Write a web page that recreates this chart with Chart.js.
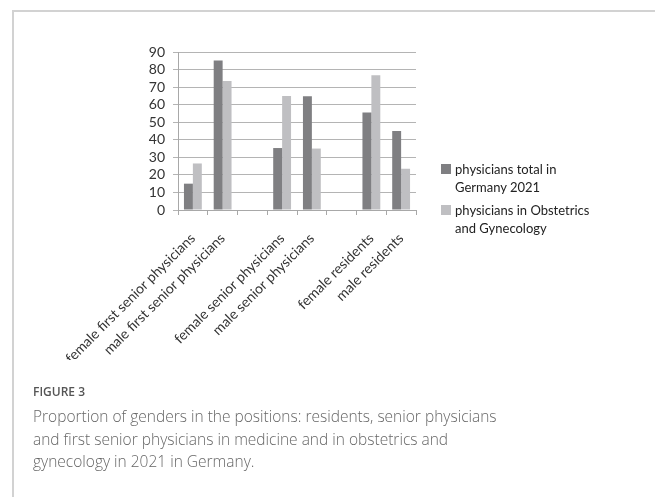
<!DOCTYPE html>
<html>
<head>
<meta charset="utf-8">
<script src="https://cdn.jsdelivr.net/npm/chart.js@4/dist/chart.umd.min.js"></script>
<style>
  html, body { margin:0; padding:0; background:#fff; }
  body { width:655px; height:497px; position:relative; overflow:hidden; }
  #frameTop { position:absolute; left:13px; top:10px; width:642px; height:0; border-top:2px solid #d2d2d2; }
  #frameLeft { position:absolute; left:12px; top:10px; width:0; height:487px; border-left:2px solid #d2d2d2; }
  #c { position:absolute; left:0; top:0; }
  #legend { position:absolute; left:441px; top:160px; font-family:Lato, "Liberation Sans", sans-serif; font-size:13px; color:#222; }
  .li { position:relative; padding-left:14px; line-height:18px; margin-bottom:5px; }
  .sw { position:absolute; left:0; top:4px; width:10px; height:10px; }
  #fig { position:absolute; left:33px; top:383px; font-family:"Open Sans", sans-serif; font-size:12px; font-weight:600; color:#555; }
  #cap { position:absolute; left:33px; top:405px; width:475px; font-family:"Open Sans", sans-serif; font-size:15.5px; line-height:22.5px; color:#666; font-weight:300; }
</style>
</head>
<body>
<div id="frameTop"></div>
<div id="frameLeft"></div>
<canvas id="c" width="655" height="497"></canvas>
<div id="legend"></div>
<div id="fig">FIGURE 3</div>
<div id="cap">Proportion of genders in the positions: residents, senior physicians and first senior physicians in medicine and in obstetrics and gynecology in 2021 in Germany.</div>
<script>
const categories = ["female first senior physicians", "male first senior physicians", "", "female senior physicians", "male senior physicians", "", "female residents", "male residents"];
const seriesNames = ["physicians total in Germany 2021", "physicians in Obstetrics and Gynecology"];
const legendLines = [["physicians total in", "Germany 2021"], ["physicians in Obstetrics", "and Gynecology"]];
const totalGermany = [15, 85.2, null, 35.3, 64.8, null, 55.5, 45];
const obgyn = [26.5, 73.5, null, 65, 35, null, 76.8, 23.5];
const yTicks = [0, 10, 20, 30, 40, 50, 60, 70, 80, 90];
const colors = ["#7f7f82", "#bfbfc2"];

const lg = document.getElementById('legend');
legendLines.forEach((lines, i) => {
  const d = document.createElement('div');
  d.className = 'li';
  d.innerHTML = '<span class="sw" style="background:' + colors[i] + '"></span>' + lines.join('<br>');
  lg.appendChild(d);
});

new Chart(document.getElementById('c'), {
  type: 'bar',
  data: {
    labels: categories,
    datasets: [
      { label: seriesNames[0], data: totalGermany, backgroundColor: colors[0], borderWidth: 0 },
      { label: seriesNames[1], data: obgyn, backgroundColor: colors[1], borderWidth: 0 }
    ]
  },
  options: {
    responsive: false,
    animation: false,
    devicePixelRatio: 1,
    layout: { padding: { left: 118, right: 239, top: 52, bottom: 137 } },
    plugins: { legend: { display: false }, tooltip: { enabled: false } },
    datasets: { bar: { categoryPercentage: 0.6, barPercentage: 1.0 } },
    scales: {
      x: {
        offset: true,
        grid: { display: true, offset: true, drawOnChartArea: false, drawTicks: true, tickLength: 5, color: '#a8a8a8', lineWidth: 1 },
        border: { display: true, color: '#a8a8a8', width: 1 },
        ticks: { autoSkip: false, minRotation: 45, maxRotation: 45, padding: 15, color: '#333', font: { family: 'Lato, "Liberation Sans", sans-serif', size: 14 } },
        afterFit: (s) => { s.height = 150; }
      },
      y: {
        min: 0, max: 90,
        afterBuildTicks: (s) => { s.ticks = yTicks.map(v => ({ value: v })); },
        grid: { color: '#b4b4b4', lineWidth: 1, drawTicks: true, tickLength: 5 },
        border: { display: true, color: '#a8a8a8', width: 1 },
        ticks: { autoSkip: false, stepSize: 10, padding: 8, color: '#333', font: { family: 'Lato, "Liberation Sans", sans-serif', size: 14 } },
        afterFit: (s) => { s.width = 60; }
      }
    }
  }
});
</script>
</body>
</html>
